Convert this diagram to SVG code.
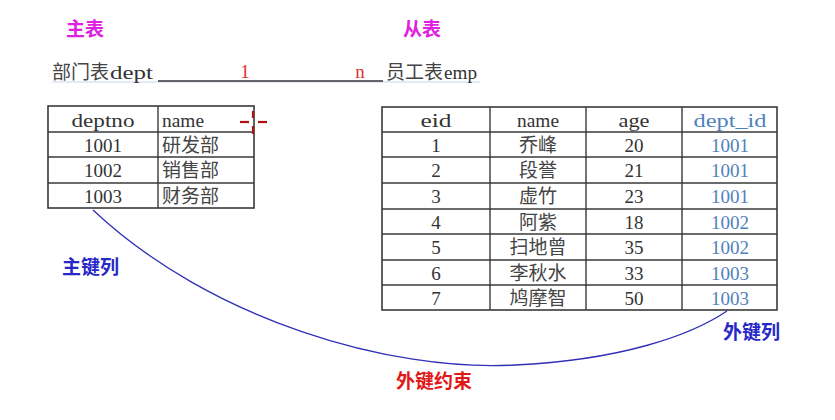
<svg xmlns="http://www.w3.org/2000/svg" width="835" height="420" viewBox="0 0 835 420">
<style>
.tbl{fill:#fff;stroke:#3a3a3a;stroke-width:1.6}
.ln{stroke:#3a3a3a;stroke-width:1.4}
.cell{font-family:"Liberation Serif","Noto Sans CJK SC",serif;font-size:19px;fill:#333}
.cjk{font-family:"Noto Sans CJK SC","Liberation Serif",sans-serif;font-size:19px;fill:#444}
.fk{fill:#4f81bd}
.title{font-family:"Noto Sans CJK SC",sans-serif;font-size:19px;font-weight:bold}
.mid{text-anchor:middle}
</style>
<rect width="835" height="420" fill="#fff"/>

<g id="title-main"><text class="title" x="66" y="36" fill="#e020e0">主表</text></g>
<g id="title-sub"><text class="title" x="403" y="36" fill="#e020e0">从表</text></g>

<line x1="52" y1="82" x2="480" y2="82" stroke="#c8d4ec" stroke-width="1"/>
<g id="dept-label"><text x="52" y="79" class="cjk">部门表</text><text x="110" y="79" class="cell" textLength="43" lengthAdjust="spacingAndGlyphs">dept</text></g>
<g id="emp-label"><text x="386" y="79" class="cjk">员工表</text><text x="444" y="79" class="cell" textLength="33" lengthAdjust="spacingAndGlyphs">emp</text></g>

<g id="connectors" fill="none">
<line x1="158" y1="81" x2="383" y2="81" stroke="#333" stroke-width="1.4"/>
<path d="M93,210 C210,320 390,372 515,365 C620,360 690,336 727,311" stroke="#3030b8" stroke-width="1.3"/>
</g>
<g id="cardinality">
<text x="245" y="78" class="cell mid" style="fill:#e03030">1</text>
<text x="360" y="78" class="cell mid" style="fill:#e03030">n</text>
</g>

<g id="dept-table">
<rect class="tbl" x="48" y="106" width="206" height="102"/>
<line class="ln" x1="158" y1="106" x2="158" y2="208"/>
<line class="ln" x1="48" y1="132" x2="254" y2="132"/>
<line class="ln" x1="48" y1="157" x2="254" y2="157"/>
<line class="ln" x1="48" y1="183" x2="254" y2="183"/>
<text class="cell mid" x="103" y="127" textLength="63" lengthAdjust="spacingAndGlyphs">deptno</text>
<text class="cell" x="162" y="127" textLength="42" lengthAdjust="spacingAndGlyphs">name</text>
<text class="cell mid" x="103" y="152">1001</text>
<text class="cell mid" x="103" y="177">1002</text>
<text class="cell mid" x="103" y="203">1003</text>
<text class="cjk" x="162" y="152">研发部</text>
<text class="cjk" x="162" y="177">销售部</text>
<text class="cjk" x="162" y="203">财务部</text>
</g>

<g id="cursor" stroke="#b01010" stroke-width="2.2" fill="none">
<line x1="240" y1="122" x2="249" y2="122"/>
<line x1="258" y1="122" x2="267" y2="122"/>
<line x1="253" y1="111" x2="253" y2="118"/>
<line x1="253" y1="126" x2="253" y2="134"/>
</g>

<g id="emp-table">
<rect class="tbl" x="382" y="107" width="395" height="203"/>
<line class="ln" x1="490" y1="107" x2="490" y2="310"/>
<line class="ln" x1="586" y1="107" x2="586" y2="310"/>
<line class="ln" x1="682" y1="107" x2="682" y2="310"/>
<line class="ln" x1="382" y1="132" x2="777" y2="132"/>
<line class="ln" x1="382" y1="157" x2="777" y2="157"/>
<line class="ln" x1="382" y1="183" x2="777" y2="183"/>
<line class="ln" x1="382" y1="209" x2="777" y2="209"/>
<line class="ln" x1="382" y1="234" x2="777" y2="234"/>
<line class="ln" x1="382" y1="260" x2="777" y2="260"/>
<line class="ln" x1="382" y1="285" x2="777" y2="285"/>
<text class="cell mid" x="436" y="127" textLength="31" lengthAdjust="spacingAndGlyphs">eid</text>
<text class="cell mid" x="538" y="127" textLength="42" lengthAdjust="spacingAndGlyphs">name</text>
<text class="cell mid" x="634" y="127" textLength="31" lengthAdjust="spacingAndGlyphs">age</text>
<text class="cell mid fk" x="730" y="127" textLength="73" lengthAdjust="spacingAndGlyphs">dept_id</text>
<g class="cell mid">
<text x="436" y="152">1</text><text x="436" y="177">2</text><text x="436" y="203">3</text><text x="436" y="229">4</text><text x="436" y="254">5</text><text x="436" y="280">6</text><text x="436" y="305">7</text>
<text x="634" y="152">20</text><text x="634" y="177">21</text><text x="634" y="203">23</text><text x="634" y="229">18</text><text x="634" y="254">35</text><text x="634" y="280">33</text><text x="634" y="305">50</text>
</g>
<g class="cell mid fk">
<text x="730" y="152">1001</text><text x="730" y="177">1001</text><text x="730" y="203">1001</text><text x="730" y="229">1002</text><text x="730" y="254">1002</text><text x="730" y="280">1003</text><text x="730" y="305">1003</text>
</g>
<g class="cjk mid">
<text x="538" y="152">乔峰</text><text x="538" y="177">段誉</text><text x="538" y="203">虚竹</text><text x="538" y="229">阿紫</text><text x="538" y="254">扫地曾</text><text x="538" y="280">李秋水</text><text x="538" y="305">鸠摩智</text>
</g>
</g>

<g id="pk-label"><text class="title" x="62" y="274" fill="#2828c8">主键列</text></g>
<g id="fk-label"><text class="title" x="723" y="339" fill="#2828c8">外键列</text></g>
<g id="fk-constraint"><text class="title" x="396" y="388" fill="#e01818">外键约束</text></g>
</svg>
